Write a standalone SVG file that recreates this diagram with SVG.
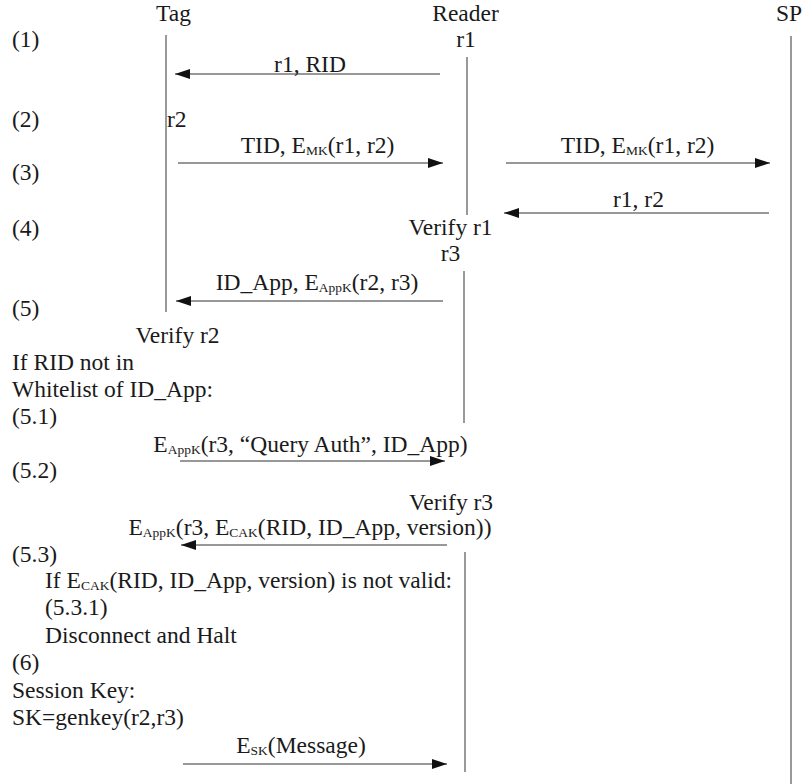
<svg xmlns="http://www.w3.org/2000/svg" width="803" height="784" viewBox="0 0 803 784">
<style>
text{font-family:"Liberation Serif","Times New Roman",serif;font-size:23.5px;fill:#1a1a1a}
.m{text-anchor:middle}
.sub{font-size:13.5px}
.life{stroke:#555;stroke-width:1.2;fill:none}
.msg{stroke:#333;stroke-width:1.2;fill:none;marker-end:url(#ah)}
</style>
<defs>
<marker id="ah" markerUnits="userSpaceOnUse" markerWidth="16" markerHeight="10" refX="15" refY="5" orient="auto">
<path d="M0,0 L15,5 L0,10 z" fill="#111"/>
</marker>
</defs>
<rect width="803" height="784" fill="#fff"/>

<g id="tag">
<text class="m" x="173.5" y="21">Tag</text>
<line class="life" x1="166" y1="35" x2="166" y2="312"/>
</g>
<g id="reader">
<text class="m" x="465.5" y="21">Reader</text>
<line class="life" x1="467" y1="57" x2="467" y2="215"/>
<line class="life" x1="464" y1="271" x2="464" y2="423"/>
<line class="life" x1="465" y1="552" x2="465" y2="772"/>
</g>
<g id="sp">
<text class="m" x="789" y="21">SP</text>
<line class="life" x1="791" y1="36" x2="791" y2="784"/>
</g>

<g id="steps">
<text x="12" y="47">(1)</text>
<text x="12" y="127">(2)</text>
<text x="12" y="180">(3)</text>
<text x="12" y="236">(4)</text>
<text x="12" y="316">(5)</text>
<text x="12" y="370">If RID not in</text>
<text x="12" y="397">Whitelist of ID_App:</text>
<text x="12" y="424">(5.1)</text>
<text x="12" y="478">(5.2)</text>
<text x="12" y="562">(5.3)</text>
<text x="45" y="588">If E<tspan class="sub" dy="2">CAK</tspan><tspan dy="-2">(RID, ID_App, version) is not valid:</tspan></text>
<text x="45" y="615">(5.3.1)</text>
<text x="45" y="643">Disconnect and Halt</text>
<text x="12" y="670">(6)</text>
<text x="12" y="698">Session Key:</text>
<text x="12" y="725">SK=genkey(r2,r3)</text>
</g>

<g id="local-actions">
<text class="m" x="466" y="47">r1</text>
<text x="167" y="127">r2</text>
<text class="m" x="450.5" y="235">Verify r1</text>
<text class="m" x="450.5" y="261">r3</text>
<text class="m" x="177.5" y="343">Verify r2</text>
<text class="m" x="451" y="510">Verify r3</text>
</g>

<g id="connectors">
<line class="msg" x1="440" y1="74" x2="175" y2="74"/>
<text class="m" x="310" y="72">r1, RID</text>

<line class="msg" x1="178" y1="163" x2="443" y2="163"/>
<text class="m" x="317.5" y="153">TID, E<tspan class="sub" dy="2">MK</tspan><tspan dy="-2">(r1, r2)</tspan></text>

<line class="msg" x1="506" y1="163" x2="770" y2="163"/>
<text class="m" x="637.5" y="153">TID, E<tspan class="sub" dy="2">MK</tspan><tspan dy="-2">(r1, r2)</tspan></text>

<line class="msg" x1="769" y1="213" x2="504" y2="213"/>
<text class="m" x="638.5" y="207">r1, r2</text>

<line class="msg" x1="443" y1="301" x2="176" y2="301"/>
<text class="m" x="317" y="290">ID_App, E<tspan class="sub" dy="2">AppK</tspan><tspan dy="-2">(r2, r3)</tspan></text>

<line class="msg" x1="180" y1="461" x2="445" y2="461"/>
<text class="m" x="310.5" y="452">E<tspan class="sub" dy="2">AppK</tspan><tspan dy="-2">(r3, “Query Auth”, ID_App)</tspan></text>

<line class="msg" x1="447" y1="545" x2="181" y2="545"/>
<text class="m" x="310" y="535">E<tspan class="sub" dy="2">AppK</tspan><tspan dy="-2">(r3, E</tspan><tspan class="sub" dy="2">CAK</tspan><tspan dy="-2">(RID, ID_App, version))</tspan></text>

<line class="msg" x1="183" y1="764" x2="447" y2="764"/>
<text class="m" x="301" y="753">E<tspan class="sub" dy="2">SK</tspan><tspan dy="-2">(Message)</tspan></text>
</g>
</svg>
